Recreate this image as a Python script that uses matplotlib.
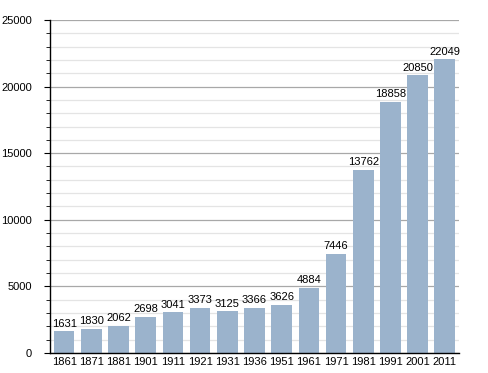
import matplotlib
matplotlib.use("Agg")
import matplotlib.pyplot as plt
from matplotlib.ticker import MultipleLocator

plt.rcParams["font.family"] = ["Liberation Sans", "DejaVu Sans"]

years = ["1861", "1871", "1881", "1901", "1911", "1921", "1931", "1936",
         "1951", "1961", "1971", "1981", "1991", "2001", "2011"]
population = [1631, 1830, 2062, 2698, 3041, 3373, 3125, 3366,
              3626, 4884, 7446, 13762, 18858, 20850, 22049]

fig = plt.figure(figsize=(4.88, 3.73), dpi=100)
ax = fig.add_axes([0.1025, 0.0536, 0.838, 0.893])

x = list(range(len(years)))
ax.set_axisbelow(True)
ax.yaxis.set_major_locator(MultipleLocator(5000))
ax.yaxis.set_minor_locator(MultipleLocator(1000))
ax.grid(axis="y", which="major", color="#a8a8a8", lw=0.9)
ax.grid(axis="y", which="minor", color="#e4e4e4", lw=0.9)

ax.bar(x, population, width=0.76, color="#9bb3cc")
for xi, v in zip(x, population):
    ax.text(xi, v + 200, str(v), ha="center", va="bottom", fontsize=8)

ax.set_xlim(-0.52, len(years) - 0.48)
ax.set_ylim(0, 25000)
ax.set_xticks(x)
ax.set_xticklabels(years)
ax.tick_params(axis="x", length=0, labelsize=8, pad=3)
ax.tick_params(axis="y", which="major", length=4, labelsize=8, pad=9)
ax.tick_params(axis="y", which="minor", length=3)

for s in ["top", "right"]:
    ax.spines[s].set_visible(False)
ax.spines["left"].set_linewidth(1)
ax.spines["bottom"].set_linewidth(1)

fig.savefig("out.png", dpi=100)
